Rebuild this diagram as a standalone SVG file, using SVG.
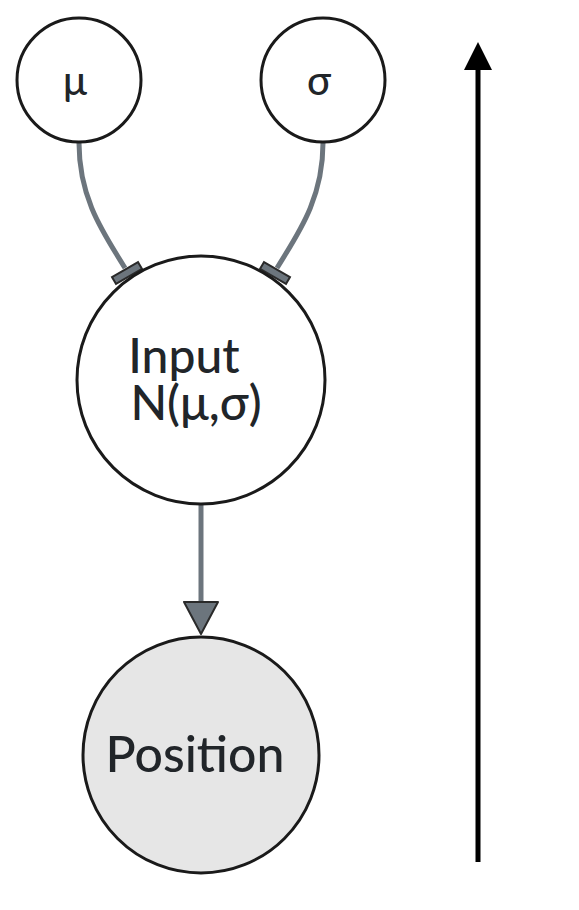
<svg xmlns="http://www.w3.org/2000/svg" width="579" height="910" viewBox="0 0 579 910">
<style>
.node{fill:#fff;stroke:#1a1a1a;stroke-width:3}
.obs{fill:#e6e6e6;stroke:#1a1a1a;stroke-width:3}
.lbl{font-family:Lato,"Open Sans",sans-serif;fill:#212529;text-anchor:middle;font-weight:500}
.edge{fill:none;stroke:#6c757d;stroke-width:5}
.bar{fill:#6c757d;stroke:#2a2a2a;stroke-width:2}
</style>
<rect width="579" height="910" fill="#fff"/>
<g id="connectors">
<path class="edge" d="M79,143 C79,200 105,235 125,268"/>
<rect class="bar" x="-15" y="-4" width="30" height="8" transform="translate(127,273) rotate(-30)"/>
<path class="edge" d="M323,143 C323,200 297,235 277,268"/>
<rect class="bar" x="-15" y="-4" width="30" height="8" transform="translate(275,273) rotate(30)"/>
<path class="edge" d="M201,505 L201,602"/>
<polygon points="184,602 218,602 201,634" fill="#6c757d" stroke="#2a2a2a" stroke-width="2" stroke-linejoin="round"/>
<line x1="478" y1="862" x2="478" y2="66" stroke="#000" stroke-width="5"/>
<polygon points="464,70 492,70 478,42" fill="#000"/>
</g>
<g id="mu">
<circle class="node" cx="79" cy="80" r="62"/>
<text class="lbl" x="75" y="95" font-size="40">μ</text>
</g>
<g id="sigma">
<circle class="node" cx="323" cy="80" r="62"/>
<text class="lbl" x="319" y="95" font-size="40">σ</text>
</g>
<g id="input">
<circle class="node" cx="201" cy="380" r="124"/>
<text class="lbl" x="184" y="373" font-size="48">Input</text>
<text class="lbl" x="196" y="420" font-size="48">N(μ,σ)</text>
</g>
<g id="position">
<circle class="obs" cx="201" cy="755" r="118"/>
<text class="lbl" x="195" y="772" font-size="50">Position</text>
</g>
</svg>
